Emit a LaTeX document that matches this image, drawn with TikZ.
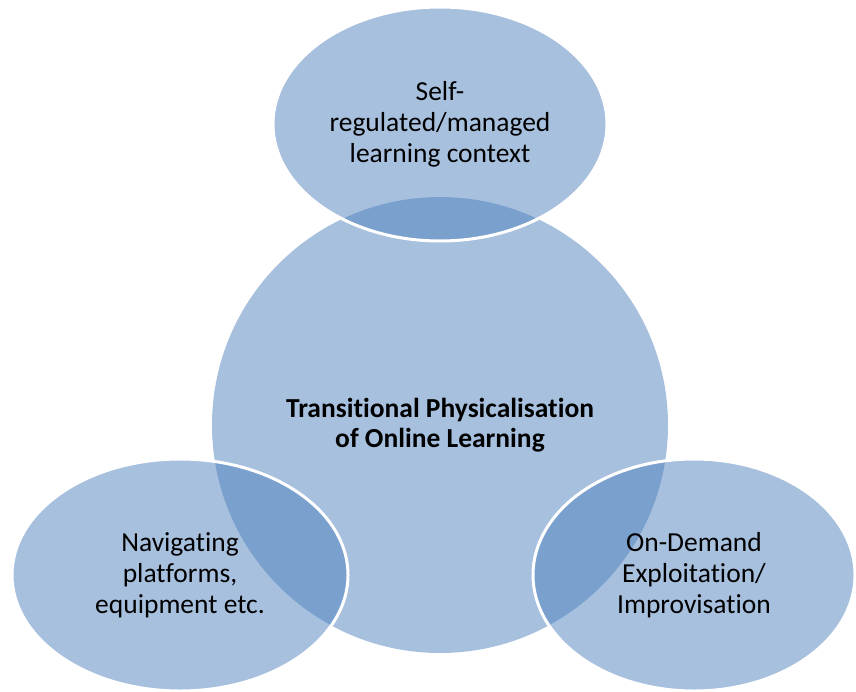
\documentclass[tikz,border=0pt]{standalone}
\usepackage{fontspec}
\setmainfont{Carlito}[Ligatures=NoCommon]
\usetikzlibrary{shapes.geometric}
\definecolor{vennblue}{RGB}{79,129,189}

\begin{document}
\begin{tikzpicture}[x=1pt, y=-1pt,
  core/.style={circle, fill=vennblue, fill opacity=0.5, text opacity=1,
    minimum size=456pt, inner sep=0pt, align=center,
    font=\fontsize{27.5}{30.5}\selectfont\bfseries},
  facet/.style={ellipse, draw=white, line width=3pt, fill=vennblue,
    fill opacity=0.5, text opacity=1, minimum width=334pt,
    minimum height=234pt, inner sep=0pt, align=center,
    font=\fontsize{27.5}{31}\selectfont}
]
  \useasboundingbox (0,0) rectangle (856,691);
  \node[core] (tpol) at (440,425) {Transitional Physicalisation\\of Online Learning};
  \node[facet] (self) at (440,124) {Self-\\regulated/managed\\learning context};
  \node[facet, minimum width=336pt, minimum height=232pt] (nav) at (180,575)
    {Navigating\\platforms,\\equipment etc.};
  \node[facet, minimum width=322pt, minimum height=232pt] (odem) at (694,575)
    {On-Demand\\Exploitation/\\Improvisation};
\end{tikzpicture}
\end{document}
